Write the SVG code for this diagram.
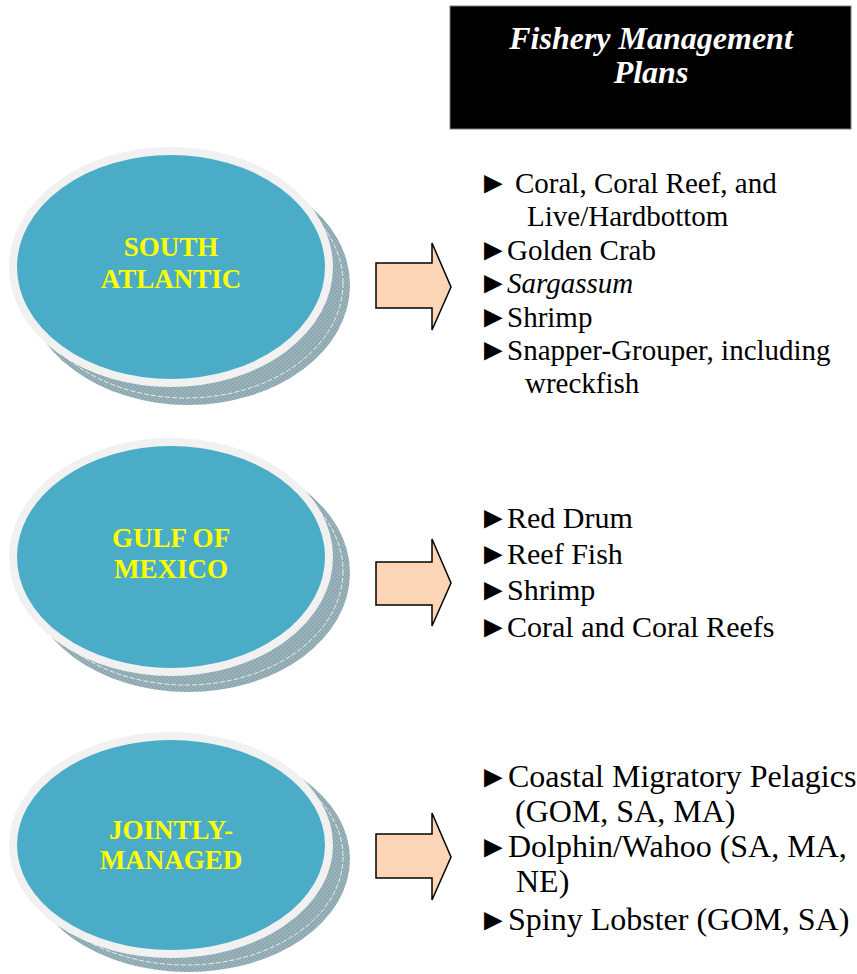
<svg xmlns="http://www.w3.org/2000/svg" width="857" height="974" viewBox="0 0 857 974">
<style>
.shadow{fill:url(#chk);}
.dash{fill:none;stroke:#ffffff;stroke-width:0.8;stroke-dasharray:5 2;}
.oval{fill:#4aacc6;stroke:#f1f1f1;stroke-width:8;}
.lbl{font-family:"Liberation Serif","Times New Roman",serif;font-weight:bold;font-size:27px;fill:#ffff00;text-anchor:middle;}
.item{font-family:"Liberation Serif","Times New Roman",serif;font-size:29px;fill:#000000;}
.g30{font-size:30px;}
.g32{font-size:32px;}
.b{font-family:"Liberation Serif","Times New Roman",serif;font-size:31px;fill:#000000;}
.arrow{fill:#fbd5b5;stroke:#000000;stroke-width:1.5;stroke-linejoin:miter;}
.title{font-family:"Liberation Serif","Times New Roman",serif;font-weight:bold;font-style:italic;font-size:32px;fill:#ffffff;text-anchor:middle;}
</style>
<defs>
<pattern id="chk" width="4" height="4" patternUnits="userSpaceOnUse">
<rect width="4" height="4" fill="#8da8b0"/>
<rect width="2" height="2" fill="#9ab2b9"/>
<rect x="2" y="2" width="2" height="2" fill="#9ab2b9"/>
</pattern>
</defs>

<g id="title">
<rect x="450" y="6" width="401" height="123" fill="#000000" stroke="#7f7f7f" stroke-width="1"/>
<text class="title" x="651" y="49">Fishery Management</text>
<text class="title" x="651" y="83">Plans</text>
</g>

<g id="south-atlantic">
<ellipse class="shadow" cx="188" cy="285" rx="162" ry="120"/>
<ellipse class="dash" cx="186" cy="283" rx="157" ry="115"/>
<ellipse class="oval" cx="171" cy="267" rx="158" ry="116"/>
<text class="lbl" x="171" y="256">SOUTH</text>
<text class="lbl" x="171" y="288">ATLANTIC</text>
</g>

<g id="gulf-of-mexico">
<ellipse class="shadow" cx="188" cy="573" rx="162" ry="119"/>
<ellipse class="dash" cx="186" cy="571" rx="157" ry="114"/>
<ellipse class="oval" cx="171" cy="557" rx="158" ry="115"/>
<text class="lbl" x="171" y="547">GULF OF</text>
<text class="lbl" x="171" y="578">MEXICO</text>
</g>

<g id="jointly-managed">
<ellipse class="shadow" cx="188" cy="859" rx="162" ry="113"/>
<ellipse class="dash" cx="186" cy="857" rx="157" ry="108"/>
<ellipse class="oval" cx="171" cy="845" rx="158" ry="109"/>
<text class="lbl" x="171" y="839">JOINTLY-</text>
<text class="lbl" x="171" y="869">MANAGED</text>
</g>

<g id="connectors">
<path class="arrow" d="M376,263 H432 V243 L451,287 L432,330 V308 H376 Z"/>
<path class="arrow" d="M376,562 H432 V539 L451,583 L432,626 V605 H376 Z"/>
<path class="arrow" d="M376,834 H432 V813 L451,857 L432,900 V878 H376 Z"/>
</g>

<g id="bullets" class="b">
<text x="478" y="193">►</text>
<text x="478" y="260">►</text>
<text x="478" y="293">►</text>
<text x="478" y="327">►</text>
<text x="478" y="360">►</text>
<text x="478" y="528">►</text>
<text x="478" y="564">►</text>
<text x="478" y="600">►</text>
<text x="478" y="637">►</text>
<text x="478" y="787">►</text>
<text x="478" y="857">►</text>
<text x="478" y="930">►</text>
</g>

<g id="sa-plans" class="item">
<text x="515" y="193">Coral, Coral Reef, and</text>
<text x="527" y="226">Live/Hardbottom</text>
<text x="507" y="260">Golden Crab</text>
<text x="507" y="293" font-style="italic">Sargassum</text>
<text x="507" y="327">Shrimp</text>
<text x="507" y="360">Snapper-Grouper, including</text>
<text x="525" y="393">wreckfish</text>
</g>

<g id="gom-plans" class="item g30">
<text x="507" y="528">Red Drum</text>
<text x="507" y="564">Reef Fish</text>
<text x="507" y="600">Shrimp</text>
<text x="507" y="637">Coral and Coral Reefs</text>
</g>

<g id="joint-plans" class="item g32">
<text x="508" y="787">Coastal Migratory Pelagics</text>
<text x="515" y="822">(GOM, SA, MA)</text>
<text x="508" y="857">Dolphin/Wahoo (SA, MA,</text>
<text x="516" y="892">NE)</text>
<text x="508" y="930">Spiny Lobster (GOM, SA)</text>
</g>
</svg>
